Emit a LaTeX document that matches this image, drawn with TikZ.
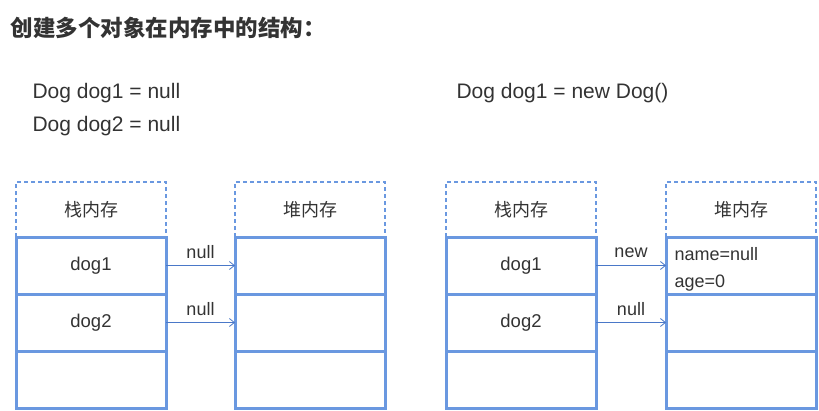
\documentclass[tikz,border=0pt]{standalone}
\usepackage{fontspec}
\setmainfont{Liberation Sans}
\newfontfamily\cjk{Noto Sans CJK SC}
\usetikzlibrary{arrows.meta}
\definecolor{bx}{HTML}{6A98E0}
\definecolor{ar}{HTML}{4A78C8}
\begin{document}
\begin{tikzpicture}[x=1pt,y=-1pt,
  cell/.style={draw=bx,line width=3pt,minimum width=150pt,minimum height=57pt,inner sep=0pt,outer sep=0pt,anchor=north west,font=\fontsize{18.5}{20}\selectfont,text=black!80},
  hdr/.style={minimum width=150pt,minimum height=55pt,inner sep=0pt,anchor=north west,font=\cjk\fontsize{18}{20}\selectfont,text=black!80},
  dsh/.style={draw=bx,line width=1.2pt,dash pattern=on 4pt off 3pt},
  conn/.style={draw=ar,line width=0.8pt,-{Straight Barb[length=5pt,width=8pt]}},
  lbl/.style={font=\fontsize{18}{20}\selectfont,text=black!80},
  code/.style={anchor=west,font=\fontsize{21}{23}\selectfont,text=black!80}]
\useasboundingbox (0,0) rectangle (819,410);
\node[anchor=west,font=\cjk\bfseries\fontsize{22.5}{24}\selectfont,text=black!80] (title) at (7,28) {创建多个对象在内存中的结构：};
\node[code] (c1) at (29,93) {Dog dog1 = null};
\node[code] (c2) at (29,126) {Dog dog2 = null};
\node[code] (c3) at (453,93) {Dog dog1 = new Dog()};
\foreach \px/\nm/\hd in {16/ls/栈内存,235/lh/堆内存,446/rs/栈内存,666/rh/堆内存}{
  \draw[dsh] (\px,237) -- (\px,182) -- (\px+150,182) -- (\px+150,237);
  \node[hdr] (\nm h) at (\px,182) {\hd};
}
\node[cell] (ls1) at (16,237) {dog1};
\node[cell] (ls2) at (16,294) {dog2};
\node[cell] (ls3) at (16,351) {};
\node[cell] (lh1) at (235,237) {};
\node[cell] (lh2) at (235,294) {};
\node[cell] (lh3) at (235,351) {};
\node[cell] (rs1) at (446,237) {dog1};
\node[cell] (rs2) at (446,294) {dog2};
\node[cell] (rs3) at (446,351) {};
\node[cell] (rh1) at (666,237) {};
\node[cell] (rh2) at (666,294) {};
\node[cell] (rh3) at (666,351) {};
\node[anchor=west,font=\fontsize{18}{20}\selectfont,text=black!80] (f1) at (671,254) {name=null};
\node[anchor=west,font=\fontsize{18}{20}\selectfont,text=black!80] (f2) at (671,283) {age=0};
\draw[conn] (ls1.east) -- (lh1.west) node[lbl,midway,above=3pt] {null};
\draw[conn] (ls2.east) -- (lh2.west) node[lbl,midway,above=3pt] {null};
\draw[conn] (rs1.east) -- (rh1.west) node[lbl,midway,above=4pt] {new};
\draw[conn] (rs2.east) -- (rh2.west) node[lbl,midway,above=3pt] {null};
\end{tikzpicture}
\end{document}
